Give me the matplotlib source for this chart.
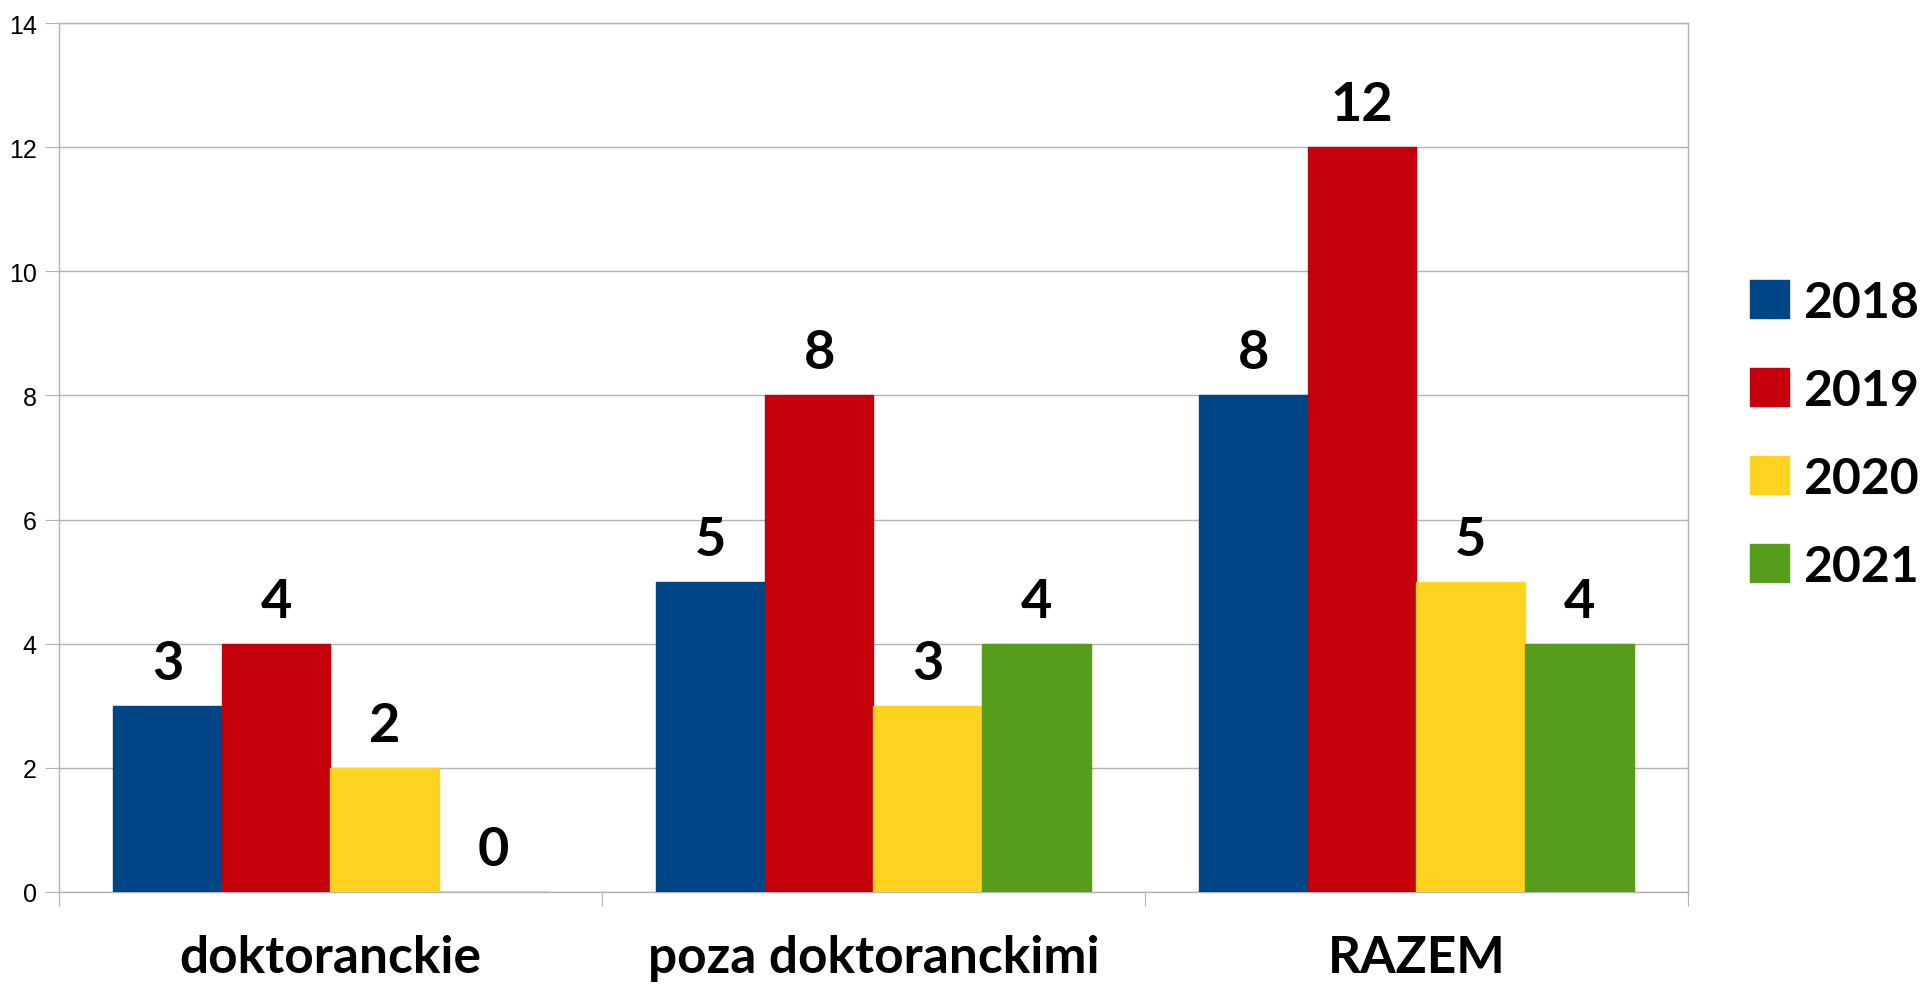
import numpy as np
import matplotlib
matplotlib.use("Agg")
import matplotlib.pyplot as plt
from matplotlib.ticker import MultipleLocator, FixedLocator

categories = ["doktoranckie", "poza doktoranckimi", "RAZEM"]
years = ["2018", "2019", "2020", "2021"]
v2018 = [3, 5, 8]
v2019 = [4, 8, 12]
v2020 = [2, 3, 5]
v2021 = [0, 4, 4]
colors = ["#004586", "#c5000b", "#ffd320", "#579d1c"]

big_font = ["Lato", "DejaVu Sans"]

fig = plt.figure(figsize=(19.23, 9.87), dpi=100)
ax = fig.add_axes([59 / 1923, 1 - 893 / 987, (1688 - 59) / 1923, (893 - 24) / 987])

x = np.arange(len(categories))
w = 0.2
series = [v2018, v2019, v2020, v2021]
for i, (vals, yr) in enumerate(zip(series, years)):
    pos = x + (i - 1.5) * w
    bars = ax.bar(pos, vals, width=w, color=colors[i], edgecolor=colors[i],
                  linewidth=1, label=yr, zorder=3)
    for b, v in zip(bars, vals):
        ax.annotate(str(v), (b.get_x() + w / 2, v), xytext=(0, 13),
                    textcoords="offset points", ha="center", va="bottom",
                    fontsize=39, fontweight="bold", family=big_font)

ax.set_xlim(-0.5, 2.5)
ax.set_ylim(0, 14)
ax.yaxis.set_major_locator(MultipleLocator(2))
ax.grid(axis="y", color="#b3b3b3", linewidth=1, zorder=0)
for s in ax.spines.values():
    s.set_color("#b3b3b3")
    s.set_linewidth(1)
ax.tick_params(axis="y", length=10, color="#b3b3b3", labelsize=18, pad=6)
for lbl in ax.get_yticklabels():
    lbl.set_family(["Liberation Sans", "DejaVu Sans"])

ax.xaxis.set_major_locator(FixedLocator([-0.5, 0.5, 1.5, 2.5]))
ax.xaxis.set_minor_locator(FixedLocator(x))
ax.tick_params(axis="x", which="major", length=10, color="#b3b3b3", labelbottom=False)
ax.tick_params(axis="x", which="minor", length=0, pad=30)
ax.set_xticks(x, categories, minor=True)
for lbl in ax.get_xticklabels(minor=True):
    lbl.set_fontsize(37)
    lbl.set_fontweight("bold")
    lbl.set_family(big_font)

leg = ax.legend(loc="center left", bbox_to_anchor=(1.0, 0.527), frameon=False,
                prop={"family": big_font, "size": 36, "weight": "bold"},
                handlelength=0.78, handleheight=0.78, handletextpad=0.28,
                labelspacing=0.86, borderaxespad=0.85)

fig.savefig("out.png", dpi=100)
